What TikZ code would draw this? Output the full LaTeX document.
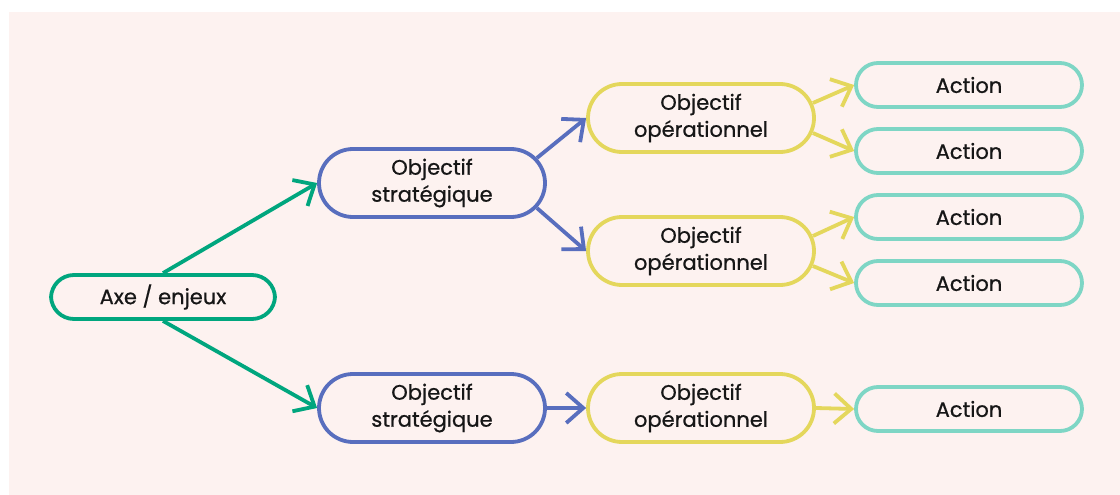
\documentclass[tikz,border=0pt]{standalone}
\usepackage{fontspec}
\setmainfont{Poppins}[FakeBold=0.7]
\usetikzlibrary{arrows.meta,calc}
\definecolor{bgpink}{RGB}{253,242,240}
\definecolor{cgreen}{RGB}{0,166,126}
\definecolor{cblue}{RGB}{88,110,190}
\definecolor{cyellow}{RGB}{228,215,92}
\definecolor{cteal}{RGB}{126,214,197}
\definecolor{ctext}{RGB}{22,22,22}
\begin{document}
\begin{tikzpicture}[x=1pt,y=-1pt,
  box/.style={draw,line width=3.8pt,rounded corners=#1,inner sep=0pt,align=center,
    font=\fontsize{21}{27}\selectfont,text=ctext},
  axebox/.style={box=23pt,draw=cgreen,minimum width=224pt,minimum height=44pt},
  stratbox/.style={box=34pt,draw=cblue,minimum width=226pt,minimum height=68pt},
  opbox/.style={box=34pt,draw=cyellow,minimum width=226pt,minimum height=68pt},
  actbox/.style={box=22pt,draw=cteal,minimum width=226pt,minimum height=44pt},
  conn/.style={line width=3.8pt,-{Straight Barb[length=17pt,width=30pt,line width=3.8pt]}},
]
\useasboundingbox (0,0) rectangle (1120,495);
\fill[bgpink] (9,12) rectangle (1120,495);

\node[axebox] (axe) at (163,297) {Axe / enjeux};
\node[stratbox] (s1) at (432,183) {Objectif\\stratégique};
\node[stratbox] (s2) at (432,408) {Objectif\\stratégique};
\node[opbox] (o1) at (701,118) {Objectif\\opérationnel};
\node[opbox] (o2) at (701,251) {Objectif\\opérationnel};
\node[opbox] (o3) at (701,408) {Objectif\\opérationnel};
\node[actbox] (a1) at (969,85) {Action};
\node[actbox] (a2) at (969,151) {Action};
\node[actbox] (a3) at (969,217) {Action};
\node[actbox] (a4) at (969,283) {Action};
\node[actbox] (a5) at (969,409) {Action};

\draw[conn,draw=cgreen] (axe.north) -- (s1.west);
\draw[conn,draw=cgreen] (axe.south) -- (s2.west);

\coordinate (s1u) at ($(s1.east)+(-10,-25)$);
\coordinate (s1d) at ($(s1.east)+(-10,25)$);
\draw[conn,draw=cblue] (s1u) -- (o1.west);
\draw[conn,draw=cblue] (s1d) -- (o2.west);
\draw[conn,draw=cblue] (s2.east) -- (o3.west);

\coordinate (o1u) at ($(o1.east)+(-3,-15)$);
\coordinate (o1d) at ($(o1.east)+(-3,15)$);
\coordinate (o2u) at ($(o2.east)+(-3,-15)$);
\coordinate (o2d) at ($(o2.east)+(-3,15)$);
\draw[conn,draw=cyellow] (o1u) -- (a1.west);
\draw[conn,draw=cyellow] (o1d) -- (a2.west);
\draw[conn,draw=cyellow] (o2u) -- (a3.west);
\draw[conn,draw=cyellow] (o2d) -- (a4.west);
\draw[conn,draw=cyellow] (o3.east) -- (a5.west);
\end{tikzpicture}
\end{document}
